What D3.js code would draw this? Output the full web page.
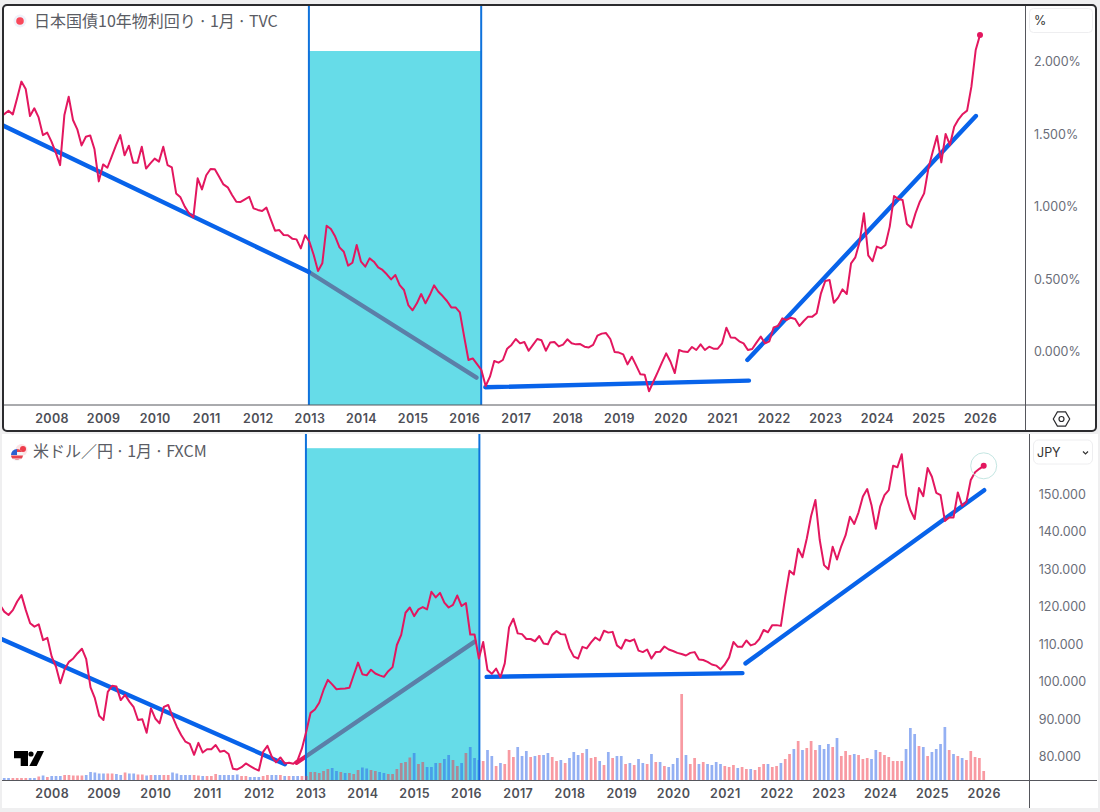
<!DOCTYPE html>
<html>
<head>
<meta charset="utf-8">
<script src="https://cdn.jsdelivr.net/npm/d3@7/dist/d3.min.js"></script>
<style>
  body { margin: 0; background: #efeff0; }
  svg { display: block; }
  .yearAxis text { font-family: Inter, sans-serif; font-size: 12.5px; font-weight: 600; fill: #4e4f57; letter-spacing: 0.35px; }
  .priceAxis text { font-family: Inter, sans-serif; font-size: 12.5px; fill: #6a6d78; }
  .title { font-family: "Noto Sans CJK JP", sans-serif; font-size: 16px; word-spacing: -1px; fill: #5a5c64; }
  .unit { font-family: Inter, sans-serif; font-size: 12.5px; fill: #333; }
</style>
</head>
<body>
<div id="chart"></div>
<script>
var svgWidth = 1100;
var svgHeight = 812;

var years = d3.range(2008, 2027);
var yieldTicks = [0, 0.5, 1, 1.5, 2];
var usdTicks = [80, 90, 100, 110, 120, 130, 140, 150];

// JGB 10y, monthly from 2007-01
var jgbYield = [
  1.620,1.638,1.661,1.636,1.747,1.862,1.811,1.625,1.678,1.615,1.493,1.510,
  1.448,1.372,1.286,1.632,1.758,1.597,1.533,1.422,1.482,1.491,1.395,1.174,
  1.291,1.268,1.344,1.422,1.493,1.354,1.420,1.303,1.303,1.413,1.262,1.298,
  1.331,1.310,1.413,1.286,1.270,1.091,1.064,1.000,0.954,0.926,1.195,1.119,
  1.216,1.259,1.257,1.206,1.153,1.133,1.080,1.034,1.032,1.050,1.068,0.988,
  0.977,0.970,0.993,0.912,0.834,0.838,0.804,0.802,0.779,0.774,0.712,0.802,
  0.758,0.666,0.556,0.609,0.868,0.845,0.793,0.719,0.689,0.593,0.613,0.735,
  0.620,0.586,0.643,0.620,0.581,0.563,0.533,0.498,0.528,0.459,0.425,0.321,
  0.285,0.333,0.397,0.333,0.390,0.457,0.413,0.383,0.349,0.305,0.305,0.271,
  0.103,-0.058,-0.047,-0.086,-0.127,-0.237,-0.173,-0.065,-0.076,-0.058,0.020,0.046,
  0.087,0.057,0.066,0.006,0.046,0.087,0.078,0.006,0.062,0.066,0.036,0.048,
  0.085,0.057,0.050,0.052,0.034,0.029,0.046,0.110,0.124,0.128,0.087,-0.003,
  -0.007,-0.019,-0.088,-0.035,-0.095,-0.157,-0.159,-0.274,-0.208,-0.143,-0.076,-0.012,
  -0.070,-0.148,0.011,0.000,-0.003,0.032,0.011,0.050,0.011,0.034,0.020,0.020,
  0.057,0.165,0.098,0.096,0.071,0.057,0.011,0.018,0.062,0.103,0.057,0.071,
  0.167,0.177,0.229,0.218,0.234,0.225,0.177,0.211,0.241,0.241,0.264,0.402,
  0.487,0.494,0.337,0.372,0.429,0.397,0.609,0.650,0.758,0.954,0.664,0.623,
  0.724,0.712,0.735,0.862,1.073,1.052,1.045,0.880,0.855,0.954,1.034,1.091,
  1.264,1.379,1.487,1.305,1.501,1.425,1.551,1.602,1.639,1.662,1.827,2.080,
  2.184
];

// USD/JPY, monthly from 2007-01
var usdJpy = [
  120.5,118.7,117.8,119.1,121.4,123.1,119.1,115.6,114.7,115.3,111.1,111.7,
  106.7,104.0,99.6,103.3,105.3,106.2,107.6,108.8,106.0,98.5,95.6,90.9,
  89.8,97.3,98.9,98.7,95.1,96.5,94.7,93.2,89.8,90.0,86.4,92.9,
  90.2,88.9,93.3,93.8,90.7,88.0,85.8,84.0,83.4,80.5,83.7,81.1,
  82.0,82.0,83.1,81.3,81.6,80.7,76.8,76.6,77.2,78.2,77.5,76.8,
  76.3,81.3,82.9,80.0,78.5,79.8,78.2,78.4,78.1,79.1,82.2,86.7,
  91.7,92.6,94.4,97.8,100.5,99.3,98.0,98.1,98.2,98.4,101.8,105.1,
  102.0,101.7,103.2,102.2,101.7,101.3,102.8,103.9,109.8,112.5,118.4,119.8,
  117.5,119.3,119.9,119.3,124.0,122.5,123.7,121.1,119.8,120.5,123.0,120.2,
  121.0,112.6,112.6,106.2,110.6,103.1,102.1,103.5,101.2,104.9,114.5,116.8,
  112.9,112.7,111.4,111.4,110.8,112.2,110.2,110.0,112.5,113.5,112.7,112.6,
  108.9,106.7,106.2,109.3,108.9,110.5,111.8,111.0,113.6,113.1,113.3,109.7,
  108.8,111.2,110.8,111.3,108.3,107.9,108.6,106.2,107.9,108.0,109.4,108.6,
  108.2,107.7,107.4,107.0,107.7,107.9,105.9,105.8,105.3,104.6,104.3,103.3,
  104.6,106.5,110.6,109.3,109.3,111.0,109.7,110.1,111.4,113.8,113.2,115.1,
  115.1,114.9,122.7,129.6,128.6,135.5,133.2,138.2,144.2,148.5,137.8,131.1,
  130.0,136.0,132.6,136.2,139.1,144.0,142.1,145.2,149.4,151.4,147.1,140.8,
  146.7,149.8,151.1,157.6,157.2,160.7,149.8,145.8,143.4,151.7,149.5,157.0,
  154.7,150.4,149.8,142.9,143.8,143.8,150.5,146.9,148.0,153.8,155.9,156.8,
  157.6
];

// volume, relative units, same months
var usdVolume = [
  2,2,2,2,2,2,2,2,2,3.5,4.5,3,
  4,4,4,5,5,4.5,4.5,4.5,5,8,7.5,6.5,
  6.5,6.5,6.5,6,5,7.5,6.5,6.5,5.5,5.5,4.5,5,
  5,5,5,5,7.5,6.5,5,5,5,5,4.5,4,
  4,4,6,5,5,5,5,5.5,4,4,3,3,
  3,4,5,5,5,5,4,4,4,4,4,4,
  8,8,7,9,11,12,9,8,7,7,6,10,
  12.5,11.5,10,9,8,7,6,6,11,17,18,22.5,
  27,16,18,13,13,17,17,21,25,20,14,17,
  27,33,22,20,19,30,24,14,17,16,30,23,
  33,24,29,23,24,25,25,27,23,19,20,17,
  22,28,25,27,31,22,23,19,15,28,22,24,
  24,16,17,15,21,17,16,26,18,18,14,13,
  16,22,86,25,16,22,16,18,16,15,18,16,
  14,13,15,12,13,11,11,10,13,16,16,13,
  14,17,21,26,31,39,30,32,39,30,35,31,
  36,33,42,24,29,25,26,25,21,22,21,30,
  28,25,23,19,19,19,31,52,46,34,33,24,
  28,31,36,53,30,26,24,22,20,29,23,22,
  9
];

// p = pink bar, b = blue bar, one row per year
var usdVolumeDir = [
  "bbbppppbbpbp","bbbpppppbbbb","bppbbpbbppbp","bbppbbbbbppb","pppbbbbbppbb",
  "bppbbpbpbbpp","pppppbbpbppp","bbppbbpppppp","bppbbbpbbppb","pbbbpbbpbppp",
  "bbbpbpbbppbp","bbbpbppbpbpb","bpbpbbpbpbpb","bbpbppbpbbbb","pppbppbpppbp",
  "pbppbpbpppbb","bpbpppbpppbb","ppppppbbbpbp","bbbbpbpbpppp","p"
].join("");

// drawn lines as [year, value]
var jgbTrendDown = [[2007.06, 1.559], [2012.99, 0.549]];
var jgbTrendBox = [[2012.99, 0.549], [2016.24, -0.18]];
var jgbTrendFlat = [[2016.41, -0.246], [2021.52, -0.2]];
var jgbTrendUp = [[2021.49, -0.058], [2025.92, 1.625]];
var usdTrendDown = [[2007.04, 111.3], [2012.505, 78.0]];
var usdTrendBox = [[2012.73, 78.4], [2016.17, 110.7]];
var usdTrendFlat = [[2016.40, 101.3], [2021.34, 102.3]];
var usdTrendUp = [[2021.40, 104.9], [2026.01, 151.1]];

var jgbBoxYears = [2012.99, 2016.33];
var jgbBoxTop = 2.073;
var usdBoxYears = [2012.91, 2016.26];
var usdBoxTop = 162.3;

var pink = "#e3175f";
var blue = "#0863ea";
var boxLine = "#0f72dc";

var svg = d3.select("#chart")
  .append("svg")
  .attr("width", svgWidth)
  .attr("height", svgHeight);

function monthYear(d, i) { return 2007 + i / 12; }

// scales
var xTop = d3.scaleLinear().domain([2008, 2026]).range([51.5, 980]);
var yTop = d3.scaleLinear().domain([0, 2]).range([351.6, 61.6]);
var xBottom = d3.scaleLinear().domain([2008, 2026]).range([51.7, 983.7]);
var yBottom = d3.scaleLinear().domain([80, 150]).range([756.7, 494.3]);
var yVolume = d3.scaleLinear().domain([0, 86]).range([780, 694]);

// panes
svg.append("rect").attr("x", 2).attr("y", 434).attr("width", 1096).attr("height", 374).attr("fill", "#fff");
svg.append("rect").attr("x", 3).attr("y", 5).attr("width", 1093).attr("height", 426).attr("rx", 4).attr("fill", "#fff");

var defs = svg.append("defs");
defs.append("clipPath").attr("id", "clipTop").append("rect")
  .attr("x", 4).attr("y", 6).attr("width", 1021).attr("height", 399);
defs.append("clipPath").attr("id", "clipBottom").append("rect")
  .attr("x", 2).attr("y", 434).attr("width", 1027).attr("height", 346);

function drawTrend(g, pts, x, y, color) {
  g.append("line")
    .attr("x1", x(pts[0][0])).attr("y1", y(pts[0][1]))
    .attr("x2", x(pts[1][0])).attr("y2", y(pts[1][1]))
    .attr("stroke", color)
    .attr("stroke-width", 4.4)
    .attr("stroke-linecap", "round");
}

function drawBox(g, boxYears, boxTop, x, y, bottomPx, topPx) {
  g.append("rect")
    .attr("x", x(boxYears[0]))
    .attr("y", y(boxTop))
    .attr("width", x(boxYears[1]) - x(boxYears[0]))
    .attr("height", bottomPx - y(boxTop))
    .attr("fill", "rgb(0,197,217)")
    .attr("fill-opacity", 0.6);
  g.selectAll(".boxLine").data(boxYears).enter()
    .append("line")
    .attr("class", "boxLine")
    .attr("x1", d => x(d)).attr("x2", d => x(d))
    .attr("y1", topPx).attr("y2", bottomPx)
    .attr("stroke", boxLine)
    .attr("stroke-width", 2);
}

function drawSeries(g, values, x, y) {
  var line = d3.line()
    .x((d, i) => x(monthYear(d, i)))
    .y(d => y(d));
  g.append("path")
    .attr("d", line(values))
    .attr("fill", "none")
    .attr("stroke", pink)
    .attr("stroke-width", 2)
    .attr("stroke-linejoin", "round");
}

// top pane: JGB yield
var topPlot = svg.append("g").attr("clip-path", "url(#clipTop)");
drawTrend(topPlot, jgbTrendBox, xTop, yTop, pink);
drawBox(topPlot, jgbBoxYears, jgbBoxTop, xTop, yTop, 405, 6);
drawTrend(topPlot, jgbTrendDown, xTop, yTop, blue);
drawTrend(topPlot, jgbTrendFlat, xTop, yTop, blue);
drawTrend(topPlot, jgbTrendUp, xTop, yTop, blue);
drawSeries(topPlot, jgbYield, xTop, yTop);
topPlot.append("circle")
  .attr("cx", xTop(2026)).attr("cy", yTop(jgbYield[jgbYield.length - 1]))
  .attr("r", 3).attr("fill", pink);

// bottom pane: USD/JPY with volume
var bottomPlot = svg.append("g").attr("clip-path", "url(#clipBottom)");
drawTrend(bottomPlot, usdTrendBox, xBottom, yBottom, pink);
drawBox(bottomPlot, usdBoxYears, usdBoxTop, xBottom, yBottom, 780, 434);
bottomPlot.selectAll(".volBar")
  .data(usdVolume)
  .enter()
  .append("rect")
  .attr("class", "volBar")
  .attr("x", (d, i) => xBottom(monthYear(d, i)) - 1.35)
  .attr("y", d => yVolume(d))
  .attr("width", 2.7)
  .attr("height", d => yVolume(0) - yVolume(d))
  .attr("fill", (d, i) => usdVolumeDir[i] === "p" ? "#f23645" : "#2962e8")
  .attr("fill-opacity", 0.5);
drawTrend(bottomPlot, usdTrendDown, xBottom, yBottom, blue);
drawTrend(bottomPlot, usdTrendFlat, xBottom, yBottom, blue);
drawTrend(bottomPlot, usdTrendUp, xBottom, yBottom, blue);
drawSeries(bottomPlot, usdJpy, xBottom, yBottom);
var usdLast = usdJpy[usdJpy.length - 1];
bottomPlot.append("circle")
  .attr("cx", xBottom(2026)).attr("cy", yBottom(usdLast))
  .attr("r", 13).attr("fill", "none").attr("stroke", "#c4e6e2").attr("stroke-width", 1);
bottomPlot.append("circle")
  .attr("cx", xBottom(2026)).attr("cy", yBottom(usdLast))
  .attr("r", 3).attr("fill", pink);

// axes
var yearFormat = d3.format("d");
svg.append("g").attr("class", "yearAxis")
  .attr("transform", "translate(0, 405)")
  .call(d3.axisBottom(xTop).tickValues(years).tickFormat(yearFormat).tickSize(0).tickPadding(9))
  .call(g => g.select(".domain").remove());
svg.append("g").attr("class", "yearAxis")
  .attr("transform", "translate(0, 780)")
  .call(d3.axisBottom(xBottom).tickValues(years).tickFormat(yearFormat).tickSize(0).tickPadding(9))
  .call(g => g.select(".domain").remove());

var fmt3 = d3.format(".3f");
svg.append("g").attr("class", "priceAxis")
  .attr("transform", "translate(1034, 0)")
  .call(d3.axisRight(yTop).tickValues(yieldTicks).tickFormat(d => fmt3(d) + "%").tickSize(0).tickPadding(0))
  .call(g => g.select(".domain").remove());
svg.append("g").attr("class", "priceAxis")
  .attr("transform", "translate(1038.7, 0)")
  .call(d3.axisRight(yBottom).tickValues(usdTicks).tickFormat(fmt3).tickSize(0).tickPadding(0))
  .call(g => g.select(".domain").remove());

// pane dividers and frame
var rule = "#55565c";
function divider(x1, y1, x2, y2) {
  svg.append("line").attr("x1", x1).attr("y1", y1).attr("x2", x2).attr("y2", y2)
    .attr("stroke", rule).attr("stroke-width", 1);
}
divider(3, 405, 1096, 405);
divider(1025.5, 5, 1025.5, 431);
divider(2, 780.5, 1097, 780.5);
divider(1029.5, 434, 1029.5, 808);
svg.append("rect").attr("x", 3).attr("y", 5).attr("width", 1093).attr("height", 426).attr("rx", 4)
  .attr("fill", "none").attr("stroke", "#2b2b2e").attr("stroke-width", 2);

// titles
svg.append("circle").attr("cx", 20).attr("cy", 21).attr("r", 6.5).attr("fill", "#eff2fa");
svg.append("circle").attr("cx", 20).attr("cy", 21).attr("r", 3.8).attr("fill", "#f9485a");
svg.append("text").attr("class", "title").attr("x", 34).attr("y", 26.5).text("日本国債10年物利回り · 1月 · TVC");

var flag = svg.append("g");
flag.append("circle").attr("cx", 21.5).attr("cy", 450).attr("r", 6).attr("fill", "#fbe4e6");
flag.append("circle").attr("cx", 23).attr("cy", 449).attr("r", 3).attr("fill", "#ee3b4a");
flag.append("circle").attr("cx", 17).attr("cy", 455).attr("r", 6).attr("fill", "#f4f4f4");
flag.append("path").attr("d", "M11,455.5h12a6,6 0 0 1 -1.2,3h-9.6a6,6 0 0 1 -1.2,-3z").attr("fill", "#e8434f");
flag.append("path").attr("d", "M17,449a6,6 0 0 1 5.2,3h-5.2z").attr("fill", "#e8434f");
flag.append("path").attr("d", "M14.5,459.5h5a6,6 0 0 1 -5,0z").attr("fill", "#e8434f");
flag.append("path").attr("d", "M11,455a6,6 0 0 1 6,-6v6z").attr("fill", "#2c5fd0");
svg.append("text").attr("class", "title").attr("x", 33).attr("y", 457).text("米ドル／円 · 1月 · FXCM");

// unit boxes
svg.append("rect").attr("x", 1029.5).attr("y", 8.5).attr("width", 63).attr("height", 24).attr("rx", 4)
  .attr("fill", "#fff").attr("stroke", "#eeeef0");
svg.append("text").attr("class", "unit").attr("x", 1034).attr("y", 25).text("%");
svg.append("rect").attr("x", 1033.5).attr("y", 440).attr("width", 59).attr("height", 24).attr("rx", 5)
  .attr("fill", "#fff").attr("stroke", "#eeeef0");
svg.append("text").attr("class", "unit").attr("x", 1037).attr("y", 456.5).text("JPY");
svg.append("path").attr("d", "M1083,451.5l2.5,2.5l2.5,-2.5").attr("fill", "none").attr("stroke", "#333").attr("stroke-width", 1.2);

// settings hexagon
var hex = d3.range(6).map(i => [1061.5 + 8.2 * Math.cos(i * Math.PI / 3), 419 + 8.2 * Math.sin(i * Math.PI / 3)]);
svg.append("path").attr("d", d3.line()(hex) + "Z").attr("fill", "none").attr("stroke", "#2b2b2e").attr("stroke-width", 1.2);
svg.append("circle").attr("cx", 1061.5).attr("cy", 419).attr("r", 2.5).attr("fill", "none").attr("stroke", "#2b2b2e").attr("stroke-width", 1.2);

// TradingView mark
var logo = svg.append("g").attr("fill", "#000");
logo.append("path").attr("d", "M14,751H28V766H20.7V758.3H14Z");
logo.append("circle").attr("cx", 31).attr("cy", 754).attr("r", 2.6);
logo.append("path").attr("d", "M37.3,751H44L36.7,766H29.3Z");
</script>
</body>
</html>
